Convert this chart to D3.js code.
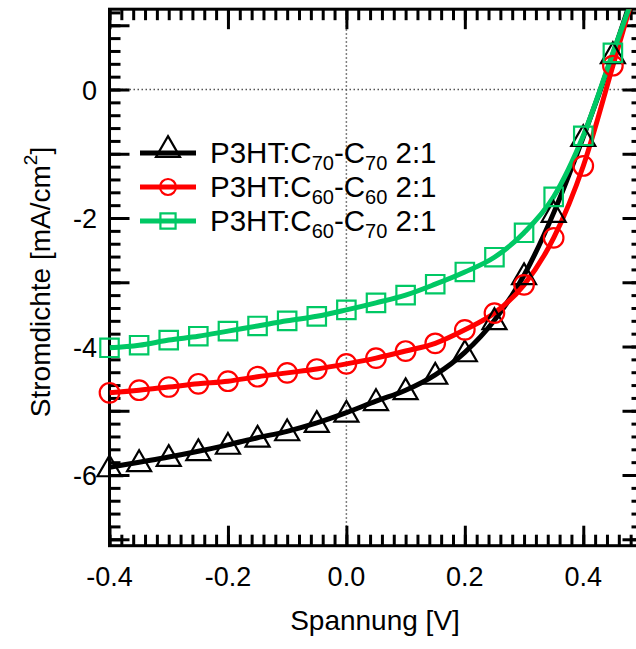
<!DOCTYPE html>
<html>
<head>
<meta charset="utf-8">
<script src="https://cdn.jsdelivr.net/npm/d3@7"></script>
<style>
  html, body { margin: 0; padding: 0; background: #fff; }
  svg { display: block; font-family: "Liberation Sans", Arial, sans-serif; }
</style>
</head>
<body>
<svg id="chart" width="636" height="649"></svg>
<script>
// Voltage sweep (V) at which the curves were sampled
const voltage = [-0.4, -0.35, -0.3, -0.25, -0.2, -0.15, -0.1, -0.05, 0, 0.05, 0.1, 0.15, 0.2, 0.25, 0.3, 0.35, 0.4, 0.45];

// Current density (mA/cm^2) for each blend
const jC70C70 = [-5.88, -5.80, -5.72, -5.63, -5.53, -5.42, -5.32, -5.19, -5.03, -4.85, -4.68, -4.44, -4.09, -3.59, -2.89, -1.92, -0.74, 0.55];
const jC60C60 = [-4.72, -4.68, -4.63, -4.58, -4.54, -4.47, -4.41, -4.35, -4.27, -4.18, -4.07, -3.95, -3.74, -3.48, -3.04, -2.31, -1.19, 0.37];
const jC60C70 = [-4.02, -3.98, -3.90, -3.84, -3.76, -3.68, -3.60, -3.53, -3.43, -3.32, -3.20, -3.03, -2.84, -2.61, -2.23, -1.67, -0.72, 0.57];

// Fitted curves continue past the last sample up to the frame edge
const fitEndVoltage = 0.5;
const fitEndC70C70 = 1.95;
const fitEndC60C60 = 1.95;
const fitEndC60C70 = 1.85;

// Axis labels
const xTickLabels = ["-0.4", "-0.2", "0.0", "0.2", "0.4"];
const yTickLabels = ["0", "-2", "-4", "-6"];

const series = [
  { name: ["P3HT:C", "70", "-C", "70", " 2:1"], color: "#000000", marker: "triangle", values: jC70C70, end: fitEndC70C70 },
  { name: ["P3HT:C", "60", "-C", "60", " 2:1"], color: "#ff0000", marker: "circle",   values: jC60C60, end: fitEndC60C60 },
  { name: ["P3HT:C", "60", "-C", "70", " 2:1"], color: "#00c864", marker: "square",   values: jC60C70, end: fitEndC60C70 }
];

const svg = d3.select("#chart");

const x = d3.scaleLinear().domain([-0.4, 0.5]).range([109.5, 642.5]);
const y = d3.scaleLinear().domain([-7.1, 1.25]).range([545.7, 9.2]);

const [x0, x1] = x.range();
const [yb, yt] = y.range();

svg.append("defs").append("clipPath").attr("id", "plotClip")
  .append("rect").attr("x", x0).attr("y", yt).attr("width", x1 - x0).attr("height", yb - yt);

// Zero reference lines
const zeroG = svg.append("g").attr("stroke", "#555").attr("stroke-width", 1.5).attr("stroke-dasharray", "1.5,2.5");
zeroG.append("line").attr("x1", x(0)).attr("x2", x(0)).attr("y1", yt).attr("y2", yb);
zeroG.append("line").attr("x1", x0).attr("x2", x1).attr("y1", y(0)).attr("y2", y(0));

// Axes: ticks pointing inward on all four sides
const xMinor = d3.range(-0.4, 0.5001, 0.02).map(v => +v.toFixed(2));
const xMajor = d3.range(-0.4, 0.5001, 0.2).map(v => +v.toFixed(2));
const yMinor = d3.range(-7.0, 1.2001, 0.2).map(v => +v.toFixed(2));
const yMajor = d3.range(-7, 1.001, 1);

const majLen = 20, minLen = 11;

function drawAxis(axisGen, transform, values, len) {
  const g = svg.append("g").attr("transform", transform)
    .call(axisGen.tickValues(values).tickSize(len).tickFormat(""));
  g.select(".domain").remove();
  g.selectAll(".tick line").attr("stroke", "#000").attr("stroke-width", 3);
  return g;
}

// bottom (inward = negative size)
drawAxis(d3.axisBottom(x), `translate(0,${yb})`, xMinor, -minLen);
drawAxis(d3.axisBottom(x), `translate(0,${yb})`, xMajor, -majLen);
// top
drawAxis(d3.axisTop(x), `translate(0,${yt})`, xMinor, -minLen);
drawAxis(d3.axisTop(x), `translate(0,${yt})`, xMajor, -majLen);
// left
drawAxis(d3.axisLeft(y), `translate(${x0},0)`, yMinor, -minLen);
drawAxis(d3.axisLeft(y), `translate(${x0},0)`, yMajor, -majLen);
// right
drawAxis(d3.axisRight(y), `translate(${x1},0)`, yMinor, -minLen);
drawAxis(d3.axisRight(y), `translate(${x1},0)`, yMajor, -majLen);

// Frame
svg.append("rect").attr("x", x0).attr("y", yt).attr("width", x1 - x0).attr("height", yb - yt)
  .attr("fill", "none").attr("stroke", "#000").attr("stroke-width", 3);

// Tick labels
const tickFont = 27;
svg.append("g").selectAll("text").data(xTickLabels).join("text")
  .attr("x", d => x(+d)).attr("y", 586)
  .attr("text-anchor", "middle").attr("font-size", tickFont)
  .text(d => d);

svg.append("g").selectAll("text").data(yTickLabels).join("text")
  .attr("x", 97).attr("y", d => y(+d) + 10)
  .attr("text-anchor", "end").attr("font-size", tickFont)
  .text(d => d);

// Axis titles
svg.append("text").attr("x", 375).attr("y", 630).attr("text-anchor", "middle")
  .attr("font-size", 28).text("Spannung [V]");

const yTitle = svg.append("text").attr("transform", "translate(50,282) rotate(-90)")
  .attr("text-anchor", "middle").attr("font-size", 28);
yTitle.append("tspan").text("Stromdichte [mA/cm");
yTitle.append("tspan").attr("font-size", 19).attr("dy", -13).text("2");
yTitle.append("tspan").attr("dy", 13).text("]");

// Marker shapes: plot markers and their legend counterparts
const symbolType = { triangle: d3.symbolTriangle, circle: d3.symbolCircle, square: d3.symbolSquare };
const plotSize = { triangle: 250, circle: 300, square: 340 };
const legendSize = { triangle: 250, circle: 200, square: 230 };
const triOffset = 2; // centre triangle on its point

const line = d3.line().x(d => x(d[0])).y(d => y(d[1])).curve(d3.curveMonotoneX);

const plot = svg.append("g");
series.forEach(s => {
  const pts = voltage.map((v, i) => [v, s.values[i]]);
  const linePts = pts.concat([[fitEndVoltage, s.end]]);
  s.pts = pts;
  plot.append("path").datum(linePts)
    .attr("clip-path", "url(#plotClip)")
    .attr("d", line).attr("fill", "none")
    .attr("stroke", s.color).attr("stroke-width", 5).attr("stroke-linejoin", "round");
});
series.forEach(s => {
  const sym = d3.symbol().type(symbolType[s.marker]).size(plotSize[s.marker]);
  plot.append("g").selectAll("path").data(s.pts).join("path")
    .attr("transform", d => `translate(${x(d[0])},${y(d[1]) + (s.marker === "triangle" ? triOffset : 0)})`)
    .attr("d", sym())
    .attr("fill", "none").attr("stroke", s.color).attr("stroke-width", 2.2);
});

// Legend
const legend = svg.append("g");
series.forEach((s, i) => {
  const ly = 153 + i * 34;
  const sym = d3.symbol().type(symbolType[s.marker]).size(legendSize[s.marker]);
  legend.append("line").attr("x1", 140).attr("x2", 196).attr("y1", ly).attr("y2", ly)
    .attr("stroke", s.color).attr("stroke-width", 5);
  legend.append("path")
    .attr("transform", `translate(168,${ly + (s.marker === "triangle" ? -3 : 0)})`)
    .attr("d", sym())
    .attr("fill", "none").attr("stroke", s.color).attr("stroke-width", 2.2);
  const t = legend.append("text").attr("x", 210).attr("y", ly + 10).attr("font-size", 29.5);
  t.append("tspan").text(s.name[0]);
  t.append("tspan").attr("font-size", 20).attr("dy", 7).text(s.name[1]);
  t.append("tspan").attr("dy", -7).text(s.name[2]);
  t.append("tspan").attr("font-size", 20).attr("dy", 7).text(s.name[3]);
  t.append("tspan").attr("dy", -7).text(s.name[4]);
});
</script>
</body>
</html>
